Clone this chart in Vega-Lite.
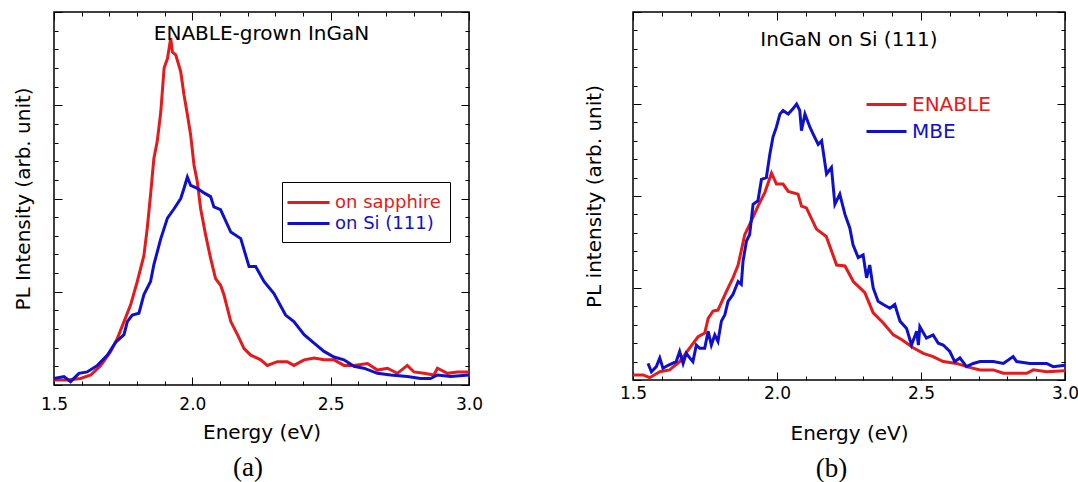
{
  "$schema": "https://vega.github.io/schema/vega-lite/v6.json",
  "background": "white",
  "padding": {"left": 12, "top": 10, "right": 0, "bottom": 0},
  "spacing": 99,
  "resolve": {"scale": {"color": "independent"}, "legend": {"color": "independent"}},
  "config": {
    "view": {"stroke": "black", "strokeWidth": 1.5},
    "font": "DejaVu Sans",
    "axis": {
      "labelFont": "DejaVu Sans", "labelFontSize": 17, "labelColor": "black", "labelFlush": false,
      "titleFont": "DejaVu Sans", "titleFontSize": 20, "titleFontWeight": "normal", "titleColor": "black",
      "domain": false, "grid": false, "tickColor": "black", "tickWidth": 1
    },
    "title": {"font": "DejaVu Sans", "fontSize": 20, "fontWeight": "normal", "color": "black"},
    "legend": {"labelFont": "DejaVu Sans"}
  },
  "datasets": {
    "a": [
      {"E": 1.5, "I": 0.054, "s": "on sapphire"},
      {"E": 1.548, "I": 0.054, "s": "on sapphire"},
      {"E": 1.596, "I": 0.07, "s": "on sapphire"},
      {"E": 1.633, "I": 0.107, "s": "on sapphire"},
      {"E": 1.669, "I": 0.21, "s": "on sapphire"},
      {"E": 1.705, "I": 0.36, "s": "on sapphire"},
      {"E": 1.729, "I": 0.5, "s": "on sapphire"},
      {"E": 1.753, "I": 0.68, "s": "on sapphire"},
      {"E": 1.777, "I": 0.86, "s": "on sapphire"},
      {"E": 1.801, "I": 1.11, "s": "on sapphire"},
      {"E": 1.825, "I": 1.39, "s": "on sapphire"},
      {"E": 1.837, "I": 1.68, "s": "on sapphire"},
      {"E": 1.849, "I": 2.04, "s": "on sapphire"},
      {"E": 1.861, "I": 2.43, "s": "on sapphire"},
      {"E": 1.873, "I": 2.61, "s": "on sapphire"},
      {"E": 1.886, "I": 2.93, "s": "on sapphire"},
      {"E": 1.898, "I": 3.4, "s": "on sapphire"},
      {"E": 1.91, "I": 3.5, "s": "on sapphire"},
      {"E": 1.922, "I": 3.72, "s": "on sapphire"},
      {"E": 1.928, "I": 3.57, "s": "on sapphire"},
      {"E": 1.94, "I": 3.54, "s": "on sapphire"},
      {"E": 1.958, "I": 3.36, "s": "on sapphire"},
      {"E": 1.97, "I": 3.11, "s": "on sapphire"},
      {"E": 1.982, "I": 2.9, "s": "on sapphire"},
      {"E": 1.994, "I": 2.68, "s": "on sapphire"},
      {"E": 2.006, "I": 2.36, "s": "on sapphire"},
      {"E": 2.018, "I": 2.18, "s": "on sapphire"},
      {"E": 2.03, "I": 1.89, "s": "on sapphire"},
      {"E": 2.048, "I": 1.61, "s": "on sapphire"},
      {"E": 2.066, "I": 1.36, "s": "on sapphire"},
      {"E": 2.084, "I": 1.14, "s": "on sapphire"},
      {"E": 2.102, "I": 1.07, "s": "on sapphire"},
      {"E": 2.114, "I": 0.97, "s": "on sapphire"},
      {"E": 2.127, "I": 0.82, "s": "on sapphire"},
      {"E": 2.139, "I": 0.68, "s": "on sapphire"},
      {"E": 2.163, "I": 0.54, "s": "on sapphire"},
      {"E": 2.187, "I": 0.39, "s": "on sapphire"},
      {"E": 2.211, "I": 0.32, "s": "on sapphire"},
      {"E": 2.247, "I": 0.27, "s": "on sapphire"},
      {"E": 2.271, "I": 0.21, "s": "on sapphire"},
      {"E": 2.307, "I": 0.25, "s": "on sapphire"},
      {"E": 2.343, "I": 0.25, "s": "on sapphire"},
      {"E": 2.367, "I": 0.21, "s": "on sapphire"},
      {"E": 2.404, "I": 0.27, "s": "on sapphire"},
      {"E": 2.44, "I": 0.29, "s": "on sapphire"},
      {"E": 2.476, "I": 0.27, "s": "on sapphire"},
      {"E": 2.512, "I": 0.27, "s": "on sapphire"},
      {"E": 2.548, "I": 0.21, "s": "on sapphire"},
      {"E": 2.584, "I": 0.21, "s": "on sapphire"},
      {"E": 2.633, "I": 0.23, "s": "on sapphire"},
      {"E": 2.669, "I": 0.16, "s": "on sapphire"},
      {"E": 2.705, "I": 0.18, "s": "on sapphire"},
      {"E": 2.741, "I": 0.125, "s": "on sapphire"},
      {"E": 2.777, "I": 0.21, "s": "on sapphire"},
      {"E": 2.801, "I": 0.14, "s": "on sapphire"},
      {"E": 2.837, "I": 0.125, "s": "on sapphire"},
      {"E": 2.873, "I": 0.107, "s": "on sapphire"},
      {"E": 2.886, "I": 0.18, "s": "on sapphire"},
      {"E": 2.922, "I": 0.125, "s": "on sapphire"},
      {"E": 2.958, "I": 0.14, "s": "on sapphire"},
      {"E": 3.0, "I": 0.14, "s": "on sapphire"},
      {"E": 1.5, "I": 0.07, "s": "on Si (111)"},
      {"E": 1.536, "I": 0.09, "s": "on Si (111)"},
      {"E": 1.56, "I": 0.036, "s": "on Si (111)"},
      {"E": 1.59, "I": 0.125, "s": "on Si (111)"},
      {"E": 1.62, "I": 0.14, "s": "on Si (111)"},
      {"E": 1.657, "I": 0.21, "s": "on Si (111)"},
      {"E": 1.693, "I": 0.32, "s": "on Si (111)"},
      {"E": 1.723, "I": 0.46, "s": "on Si (111)"},
      {"E": 1.753, "I": 0.54, "s": "on Si (111)"},
      {"E": 1.765, "I": 0.68, "s": "on Si (111)"},
      {"E": 1.783, "I": 0.75, "s": "on Si (111)"},
      {"E": 1.807, "I": 0.77, "s": "on Si (111)"},
      {"E": 1.825, "I": 0.97, "s": "on Si (111)"},
      {"E": 1.849, "I": 1.11, "s": "on Si (111)"},
      {"E": 1.861, "I": 1.29, "s": "on Si (111)"},
      {"E": 1.886, "I": 1.57, "s": "on Si (111)"},
      {"E": 1.91, "I": 1.79, "s": "on Si (111)"},
      {"E": 1.934, "I": 1.89, "s": "on Si (111)"},
      {"E": 1.958, "I": 2.0, "s": "on Si (111)"},
      {"E": 1.97, "I": 2.11, "s": "on Si (111)"},
      {"E": 1.982, "I": 2.23, "s": "on Si (111)"},
      {"E": 1.994, "I": 2.14, "s": "on Si (111)"},
      {"E": 2.018, "I": 2.11, "s": "on Si (111)"},
      {"E": 2.042, "I": 2.06, "s": "on Si (111)"},
      {"E": 2.066, "I": 2.02, "s": "on Si (111)"},
      {"E": 2.078, "I": 1.91, "s": "on Si (111)"},
      {"E": 2.102, "I": 1.88, "s": "on Si (111)"},
      {"E": 2.139, "I": 1.64, "s": "on Si (111)"},
      {"E": 2.175, "I": 1.57, "s": "on Si (111)"},
      {"E": 2.205, "I": 1.27, "s": "on Si (111)"},
      {"E": 2.229, "I": 1.27, "s": "on Si (111)"},
      {"E": 2.259, "I": 1.11, "s": "on Si (111)"},
      {"E": 2.295, "I": 0.98, "s": "on Si (111)"},
      {"E": 2.337, "I": 0.75, "s": "on Si (111)"},
      {"E": 2.367, "I": 0.68, "s": "on Si (111)"},
      {"E": 2.404, "I": 0.54, "s": "on Si (111)"},
      {"E": 2.44, "I": 0.45, "s": "on Si (111)"},
      {"E": 2.476, "I": 0.36, "s": "on Si (111)"},
      {"E": 2.512, "I": 0.3, "s": "on Si (111)"},
      {"E": 2.548, "I": 0.27, "s": "on Si (111)"},
      {"E": 2.584, "I": 0.2, "s": "on Si (111)"},
      {"E": 2.62, "I": 0.18, "s": "on Si (111)"},
      {"E": 2.669, "I": 0.125, "s": "on Si (111)"},
      {"E": 2.717, "I": 0.107, "s": "on Si (111)"},
      {"E": 2.777, "I": 0.09, "s": "on Si (111)"},
      {"E": 2.825, "I": 0.07, "s": "on Si (111)"},
      {"E": 2.861, "I": 0.07, "s": "on Si (111)"},
      {"E": 2.886, "I": 0.107, "s": "on Si (111)"},
      {"E": 2.934, "I": 0.09, "s": "on Si (111)"},
      {"E": 3.0, "I": 0.107, "s": "on Si (111)"}
    ],
    "b": [
      {"E": 1.5, "I": 0.055, "s": "ENABLE"},
      {"E": 1.535, "I": 0.055, "s": "ENABLE"},
      {"E": 1.558, "I": 0.025, "s": "ENABLE"},
      {"E": 1.593, "I": 0.09, "s": "ENABLE"},
      {"E": 1.627, "I": 0.11, "s": "ENABLE"},
      {"E": 1.662, "I": 0.2, "s": "ENABLE"},
      {"E": 1.697, "I": 0.35, "s": "ENABLE"},
      {"E": 1.726, "I": 0.47, "s": "ENABLE"},
      {"E": 1.749, "I": 0.51, "s": "ENABLE"},
      {"E": 1.761, "I": 0.67, "s": "ENABLE"},
      {"E": 1.778, "I": 0.75, "s": "ENABLE"},
      {"E": 1.795, "I": 0.76, "s": "ENABLE"},
      {"E": 1.824, "I": 0.96, "s": "ENABLE"},
      {"E": 1.847, "I": 1.11, "s": "ENABLE"},
      {"E": 1.865, "I": 1.25, "s": "ENABLE"},
      {"E": 1.888, "I": 1.58, "s": "ENABLE"},
      {"E": 1.911, "I": 1.73, "s": "ENABLE"},
      {"E": 1.934, "I": 1.89, "s": "ENABLE"},
      {"E": 1.958, "I": 2.04, "s": "ENABLE"},
      {"E": 1.981, "I": 2.25, "s": "ENABLE"},
      {"E": 1.998, "I": 2.13, "s": "ENABLE"},
      {"E": 2.021, "I": 2.13, "s": "ENABLE"},
      {"E": 2.039, "I": 2.05, "s": "ENABLE"},
      {"E": 2.073, "I": 2.02, "s": "ENABLE"},
      {"E": 2.085, "I": 1.89, "s": "ENABLE"},
      {"E": 2.102, "I": 1.87, "s": "ENABLE"},
      {"E": 2.137, "I": 1.64, "s": "ENABLE"},
      {"E": 2.171, "I": 1.56, "s": "ENABLE"},
      {"E": 2.207, "I": 1.25, "s": "ENABLE"},
      {"E": 2.236, "I": 1.24, "s": "ENABLE"},
      {"E": 2.265, "I": 1.07, "s": "ENABLE"},
      {"E": 2.305, "I": 0.95, "s": "ENABLE"},
      {"E": 2.334, "I": 0.73, "s": "ENABLE"},
      {"E": 2.369, "I": 0.62, "s": "ENABLE"},
      {"E": 2.404, "I": 0.49, "s": "ENABLE"},
      {"E": 2.432, "I": 0.44, "s": "ENABLE"},
      {"E": 2.473, "I": 0.35, "s": "ENABLE"},
      {"E": 2.508, "I": 0.29, "s": "ENABLE"},
      {"E": 2.542, "I": 0.255, "s": "ENABLE"},
      {"E": 2.577, "I": 0.2, "s": "ENABLE"},
      {"E": 2.624, "I": 0.18, "s": "ENABLE"},
      {"E": 2.658, "I": 0.145, "s": "ENABLE"},
      {"E": 2.705, "I": 0.11, "s": "ENABLE"},
      {"E": 2.751, "I": 0.11, "s": "ENABLE"},
      {"E": 2.786, "I": 0.073, "s": "ENABLE"},
      {"E": 2.867, "I": 0.073, "s": "ENABLE"},
      {"E": 2.89, "I": 0.11, "s": "ENABLE"},
      {"E": 2.936, "I": 0.09, "s": "ENABLE"},
      {"E": 3.0, "I": 0.1, "s": "ENABLE"},
      {"E": 1.552, "I": 0.18, "s": "MBE"},
      {"E": 1.564, "I": 0.09, "s": "MBE"},
      {"E": 1.581, "I": 0.145, "s": "MBE"},
      {"E": 1.593, "I": 0.24, "s": "MBE"},
      {"E": 1.604, "I": 0.127, "s": "MBE"},
      {"E": 1.622, "I": 0.16, "s": "MBE"},
      {"E": 1.65, "I": 0.2, "s": "MBE"},
      {"E": 1.662, "I": 0.31, "s": "MBE"},
      {"E": 1.674, "I": 0.18, "s": "MBE"},
      {"E": 1.685, "I": 0.29, "s": "MBE"},
      {"E": 1.697, "I": 0.24, "s": "MBE"},
      {"E": 1.708, "I": 0.2, "s": "MBE"},
      {"E": 1.72, "I": 0.38, "s": "MBE"},
      {"E": 1.732, "I": 0.345, "s": "MBE"},
      {"E": 1.749, "I": 0.345, "s": "MBE"},
      {"E": 1.761, "I": 0.53, "s": "MBE"},
      {"E": 1.772, "I": 0.38, "s": "MBE"},
      {"E": 1.784, "I": 0.49, "s": "MBE"},
      {"E": 1.795, "I": 0.42, "s": "MBE"},
      {"E": 1.807, "I": 0.64, "s": "MBE"},
      {"E": 1.819, "I": 0.71, "s": "MBE"},
      {"E": 1.83, "I": 0.855, "s": "MBE"},
      {"E": 1.847, "I": 0.93, "s": "MBE"},
      {"E": 1.865, "I": 1.07, "s": "MBE"},
      {"E": 1.876, "I": 1.04, "s": "MBE"},
      {"E": 1.882, "I": 1.29, "s": "MBE"},
      {"E": 1.894, "I": 1.51, "s": "MBE"},
      {"E": 1.905, "I": 1.58, "s": "MBE"},
      {"E": 1.917, "I": 1.91, "s": "MBE"},
      {"E": 1.934, "I": 1.95, "s": "MBE"},
      {"E": 1.946, "I": 2.18, "s": "MBE"},
      {"E": 1.963, "I": 2.2, "s": "MBE"},
      {"E": 1.975, "I": 2.45, "s": "MBE"},
      {"E": 1.986, "I": 2.64, "s": "MBE"},
      {"E": 1.998, "I": 2.75, "s": "MBE"},
      {"E": 2.01, "I": 2.89, "s": "MBE"},
      {"E": 2.021, "I": 2.93, "s": "MBE"},
      {"E": 2.039, "I": 2.89, "s": "MBE"},
      {"E": 2.056, "I": 2.95, "s": "MBE"},
      {"E": 2.068, "I": 3.0, "s": "MBE"},
      {"E": 2.079, "I": 2.93, "s": "MBE"},
      {"E": 2.085, "I": 2.71, "s": "MBE"},
      {"E": 2.097, "I": 2.89, "s": "MBE"},
      {"E": 2.114, "I": 2.75, "s": "MBE"},
      {"E": 2.126, "I": 2.67, "s": "MBE"},
      {"E": 2.143, "I": 2.56, "s": "MBE"},
      {"E": 2.155, "I": 2.6, "s": "MBE"},
      {"E": 2.172, "I": 2.24, "s": "MBE"},
      {"E": 2.189, "I": 2.31, "s": "MBE"},
      {"E": 2.201, "I": 1.91, "s": "MBE"},
      {"E": 2.218, "I": 2.02, "s": "MBE"},
      {"E": 2.236, "I": 1.8, "s": "MBE"},
      {"E": 2.253, "I": 1.65, "s": "MBE"},
      {"E": 2.264, "I": 1.47, "s": "MBE"},
      {"E": 2.282, "I": 1.33, "s": "MBE"},
      {"E": 2.299, "I": 1.36, "s": "MBE"},
      {"E": 2.311, "I": 1.11, "s": "MBE"},
      {"E": 2.322, "I": 1.25, "s": "MBE"},
      {"E": 2.334, "I": 1.0, "s": "MBE"},
      {"E": 2.351, "I": 0.855, "s": "MBE"},
      {"E": 2.369, "I": 0.82, "s": "MBE"},
      {"E": 2.392, "I": 0.78, "s": "MBE"},
      {"E": 2.409, "I": 0.82, "s": "MBE"},
      {"E": 2.427, "I": 0.64, "s": "MBE"},
      {"E": 2.45, "I": 0.56, "s": "MBE"},
      {"E": 2.467, "I": 0.38, "s": "MBE"},
      {"E": 2.485, "I": 0.53, "s": "MBE"},
      {"E": 2.491, "I": 0.38, "s": "MBE"},
      {"E": 2.496, "I": 0.58, "s": "MBE"},
      {"E": 2.519, "I": 0.455, "s": "MBE"},
      {"E": 2.542, "I": 0.49, "s": "MBE"},
      {"E": 2.56, "I": 0.4, "s": "MBE"},
      {"E": 2.577, "I": 0.38, "s": "MBE"},
      {"E": 2.6, "I": 0.31, "s": "MBE"},
      {"E": 2.617, "I": 0.2, "s": "MBE"},
      {"E": 2.635, "I": 0.24, "s": "MBE"},
      {"E": 2.658, "I": 0.145, "s": "MBE"},
      {"E": 2.681, "I": 0.18, "s": "MBE"},
      {"E": 2.705, "I": 0.2, "s": "MBE"},
      {"E": 2.751, "I": 0.2, "s": "MBE"},
      {"E": 2.786, "I": 0.18, "s": "MBE"},
      {"E": 2.82, "I": 0.255, "s": "MBE"},
      {"E": 2.832, "I": 0.2, "s": "MBE"},
      {"E": 2.878, "I": 0.18, "s": "MBE"},
      {"E": 2.936, "I": 0.18, "s": "MBE"},
      {"E": 2.959, "I": 0.145, "s": "MBE"},
      {"E": 3.0, "I": 0.16, "s": "MBE"}
    ]
  },
  "hconcat": [
    {
      "title": {"text": "(a)", "orient": "bottom", "anchor": "middle", "font": "Liberation Serif", "fontSize": 27, "offset": 12},
      "vconcat": [
        {
          "width": 415,
          "height": 373,
          "title": {"text": "ENABLE-grown InGaN", "offset": -32, "anchor": "middle"},
          "data": {"name": "a"},
          "layer": [
            {
              "mark": {"type": "line", "strokeWidth": 3},
              "encoding": {
                "x": {"field": "E", "type": "quantitative", "scale": {"domain": [1.5, 3.0], "nice": false},
                  "axis": {"orient": "bottom", "title": "Energy (eV)", "titlePadding": 10, "labelPadding": 19,
                    "values": [1.5,1.6,1.7,1.8,1.9,2.0,2.1,2.2,2.3,2.4,2.5,2.6,2.7,2.8,2.9,3.0],
                    "labelExpr": "abs(round(datum.value*2)-datum.value*2) < 0.01 ? format(datum.value, '.1f') : ''",
                    "tickSize": {"condition": {"test": "abs(round(datum.value*2)-datum.value*2) < 0.01", "value": -8}, "value": -4}}},
                "y": {"field": "I", "type": "quantitative", "scale": {"domain": [0, 4], "nice": false},
                  "axis": {"orient": "left", "title": "PL Intensity (arb. unit)", "titlePadding": 20, "labels": false,
                    "values": [0,0.2,0.4,0.6,0.8,1,1.2,1.4,1.6,1.8,2,2.2,2.4,2.6,2.8,3,3.2,3.4,3.6,3.8,4],
                    "tickSize": {"condition": {"test": "abs(round(datum.value)-datum.value) < 0.01", "value": -8}, "value": -4}}},
                "color": {"field": "s", "type": "nominal",
                  "scale": {"domain": ["on sapphire", "on Si (111)"], "range": ["#e41a1c", "#1010cc"]},
                  "legend": {"title": null, "orient": "none", "legendX": 228, "legendY": 170,
                    "symbolType": "M-1.5,0H2.7", "symbolSize": 400, "symbolStrokeWidth": 3,
                    "labelFontSize": 18, "labelColor": {"expr": "datum.value == 'on sapphire' ? '#e41a1c' : '#1010cc'"},
                    "strokeColor": "black", "fillColor": "white", "padding": 9, "rowPadding": 0, "labelOffset": 21}}
              }
            },
            {
              "mark": {"type": "point", "opacity": 0, "size": 1},
              "encoding": {
                "x": {"field": "E", "type": "quantitative",
                  "axis": {"orient": "top", "title": null, "labels": false,
                    "values": [1.5,1.6,1.7,1.8,1.9,2.0,2.1,2.2,2.3,2.4,2.5,2.6,2.7,2.8,2.9,3.0],
                    "tickSize": {"condition": {"test": "abs(round(datum.value*2)-datum.value*2) < 0.01", "value": -8}, "value": -4}}},
                "y": {"field": "I", "type": "quantitative",
                  "axis": {"orient": "right", "title": null, "labels": false,
                    "values": [0,0.2,0.4,0.6,0.8,1,1.2,1.4,1.6,1.8,2,2.2,2.4,2.6,2.8,3,3.2,3.4,3.6,3.8,4],
                    "tickSize": {"condition": {"test": "abs(round(datum.value)-datum.value) < 0.01", "value": -8}, "value": -4}}}
              }
            }
          ],
          "resolve": {"axis": {"x": "independent", "y": "independent"}}
        }
      ]
    },
    {
      "title": {"text": "(b)", "orient": "bottom", "anchor": "middle", "font": "Liberation Serif", "fontSize": 27, "offset": 12},
      "vconcat": [
        {
          "width": 432,
          "height": 368,
          "title": {"text": "InGaN on Si (111)", "offset": -38, "anchor": "middle"},
          "data": {"name": "b"},
          "layer": [
            {
              "mark": {"type": "line", "strokeWidth": 3},
              "encoding": {
                "x": {"field": "E", "type": "quantitative", "scale": {"domain": [1.5, 3.0], "nice": false},
                  "axis": {"orient": "bottom", "title": "Energy (eV)", "titlePadding": 22, "labelPadding": 13,
                    "values": [1.5,1.6,1.7,1.8,1.9,2.0,2.1,2.2,2.3,2.4,2.5,2.6,2.7,2.8,2.9,3.0],
                    "labelExpr": "abs(round(datum.value*2)-datum.value*2) < 0.01 ? format(datum.value, '.1f') : ''",
                    "tickSize": {"condition": {"test": "abs(round(datum.value*2)-datum.value*2) < 0.01", "value": -8}, "value": -4}}},
                "y": {"field": "I", "type": "quantitative", "scale": {"domain": [0, 4], "nice": false},
                  "axis": {"orient": "left", "title": "PL intensity (arb. unit)", "titlePadding": 28, "labels": false,
                    "values": [0,0.2,0.4,0.6,0.8,1,1.2,1.4,1.6,1.8,2,2.2,2.4,2.6,2.8,3,3.2,3.4,3.6,3.8,4],
                    "tickSize": {"condition": {"test": "abs(round(datum.value)-datum.value) < 0.01", "value": -8}, "value": -4}}},
                "color": {"field": "s", "type": "nominal",
                  "scale": {"domain": ["ENABLE", "MBE"], "range": ["#e41a1c", "#1010cc"]},
                  "legend": {"title": null, "orient": "none", "legendX": 236, "legendY": 81,
                    "symbolType": "M-1.4,0H2.6", "symbolSize": 400, "symbolStrokeWidth": 3,
                    "labelFontSize": 20, "labelColor": {"expr": "datum.value == 'ENABLE' ? '#e41a1c' : '#1010cc'"},
                    "padding": 0, "rowPadding": 5, "labelOffset": 20}}
              }
            },
            {
              "mark": {"type": "point", "opacity": 0, "size": 1},
              "encoding": {
                "x": {"field": "E", "type": "quantitative",
                  "axis": {"orient": "top", "title": null, "labels": false,
                    "values": [1.5,1.6,1.7,1.8,1.9,2.0,2.1,2.2,2.3,2.4,2.5,2.6,2.7,2.8,2.9,3.0],
                    "tickSize": {"condition": {"test": "abs(round(datum.value*2)-datum.value*2) < 0.01", "value": -8}, "value": -4}}},
                "y": {"field": "I", "type": "quantitative",
                  "axis": {"orient": "right", "title": null, "labels": false,
                    "values": [0,0.2,0.4,0.6,0.8,1,1.2,1.4,1.6,1.8,2,2.2,2.4,2.6,2.8,3,3.2,3.4,3.6,3.8,4],
                    "tickSize": {"condition": {"test": "abs(round(datum.value)-datum.value) < 0.01", "value": -8}, "value": -4}}}
              }
            }
          ],
          "resolve": {"axis": {"x": "independent", "y": "independent"}}
        }
      ]
    }
  ]
}
